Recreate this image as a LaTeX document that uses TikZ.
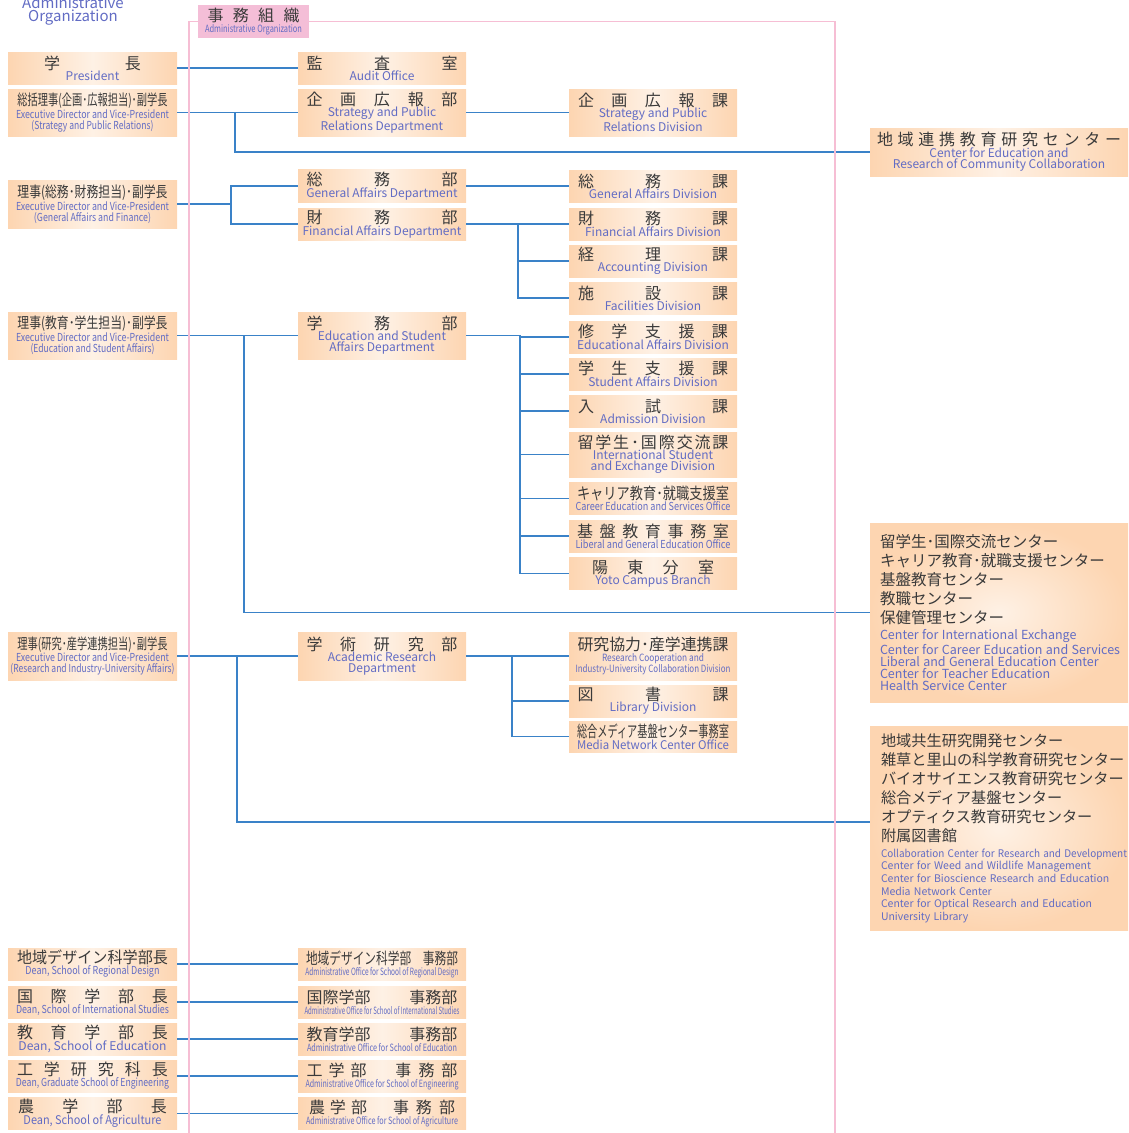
\documentclass[tikz,border=0pt]{standalone}
\usepackage{fontspec}
\setmainfont{Noto Sans CJK JP}
\usepackage{graphicx}

\definecolor{peach}{RGB}{253,213,177}
\definecolor{peachlight}{RGB}{254,241,229}
\definecolor{jpgray}{RGB}{58,58,58}
\definecolor{enblue}{RGB}{98,108,196}
\definecolor{linkblue}{RGB}{58,130,200}
\definecolor{pinkline}{RGB}{246,190,212}
\definecolor{titlepink}{RGB}{244,190,215}

\newcommand\jp[1]{{\color{jpgray}\fontsize{16}{16}\selectfont #1}}
\newcommand\jpq[2]{{\color{jpgray}\fontsize{16}{16}\selectfont\resizebox{#1}{\height}{#2}}}
\newcommand\jpe[2]{{\color{jpgray}\fontsize{15}{15}\selectfont\resizebox{#1}{\height}{#2}}}
\newcommand\en[1]{{\color{enblue}\fontsize{12}{11}\selectfont #1}}
\newcommand\enq[2]{{\color{enblue}\fontsize{12}{11}\selectfont\resizebox{#1}{\height}{#2}}}
\newcommand\enc[2]{{\color{enblue}\fontsize{11}{10}\selectfont\resizebox{#1}{\height}{#2}}}
\newcommand\encs[2]{{\color{enblue}\fontsize{10}{9}\selectfont\resizebox{#1}{\height}{#2}}}
\newcommand\spr[2]{\makebox[#1][s]{#2}}

\tikzset{
  orgbox/.style={left color=peach, right color=peach, middle color=peachlight,
    inner sep=0pt, align=center, minimum width=169pt, minimum height=32pt,
    font=\fontsize{12}{11}\selectfont},
  tallbox/.style={orgbox, minimum height=47pt},
  bigbox/.style={inner color=peachlight, outer color=peach, inner sep=0pt,
    minimum width=258pt, text width=258pt, align=left},
  titlebox/.style={fill=titlepink, inner sep=0pt, align=center,
    minimum width=111pt, minimum height=33pt, font=\fontsize{10}{9}\selectfont},
  link/.style={draw=linkblue, line width=1.5pt},
  frame/.style={draw=pinkline, line width=1.5pt},
}

\begin{document}
\begin{tikzpicture}[x=1pt,y=-1pt,line cap=butt]
\useasboundingbox (0,0) rectangle (1128,1133);

% heading and title
\node[inner sep=0pt, align=center, text=enblue, font=\fontsize{15}{13}\selectfont] (hd) at (73,11) {Administrative\\Organization};
\node[titlebox] (title) at (253.5,21.5) {\jp{\spr{92pt}{事\hfill 務\hfill 組\hfill 織}}\\\encs{97pt}{Administrative Organization}};

% left column
\node[orgbox] (pres) at (92.5,68) {\jp{\spr{97pt}{学\hfill 長}}\\\en{President}};
\node[tallbox] (exS) at (92.5,112.5) {\jpe{150pt}{総括理事(企画･広報担当)･副学長}\\\enc{153pt}{Executive Director and Vice-President}\\\enc{122pt}{(Strategy and Public Relations)}};
\node[tallbox, minimum height=48pt] (exG) at (92.5,204) {\jpe{150pt}{理事(総務･財務担当)･副学長}\\\enc{153pt}{Executive Director and Vice-President}\\\enc{117pt}{(General Affairs and Finance)}};
\node[tallbox] (exE) at (92.5,335.5) {\jpe{150pt}{理事(教育･学生担当)･副学長}\\\enc{153pt}{Executive Director and Vice-President}\\\enc{124pt}{(Education and Student Affairs)}};
\node[tallbox, minimum height=48pt] (exR) at (92.5,656) {\jpe{150pt}{理事(研究･産学連携担当)･副学長}\\\enc{153pt}{Executive Director and Vice-President}\\\enc{164pt}{(Research and Industry-University Affairs)}};

\node[orgbox] (dean1) at (92.5,964) {\jpq{151pt}{地域デザイン科学部長}\\\enc{134pt}{Dean, School of Regional Design}};
\node[orgbox] (dean2) at (92.5,1002) {\jp{\spr{151pt}{国\hfill 際\hfill 学\hfill 部\hfill 長}}\\\enc{153pt}{Dean, School of International Studies}};
\node[orgbox] (dean3) at (92.5,1039) {\jp{\spr{151pt}{教\hfill 育\hfill 学\hfill 部\hfill 長}}\\\enq{148pt}{Dean, School of Education}};
\node[orgbox] (dean4) at (92.5,1076) {\jp{\spr{151pt}{工\hfill 学\hfill 研\hfill 究\hfill 科\hfill 長}}\\\enc{153pt}{Dean, Graduate School of Engineering}};
\node[orgbox] (dean5) at (92.5,1113.5) {\jp{\spr{149pt}{農\hfill 学\hfill 部\hfill 長}}\\\enq{138pt}{Dean, School of Agriculture}};

% middle column
\node[orgbox, minimum width=168pt] (audit) at (382,68) {\jp{\spr{151pt}{監\hfill 査\hfill 室}}\\\en{Audit Office}};
\node[tallbox, minimum width=168pt] (sprD) at (382,112.5) {\jp{\spr{151pt}{企\hfill 画\hfill 広\hfill 報\hfill 部}}\\\en{Strategy and Public}\\\en{Relations Department}};
\node[orgbox, minimum width=168pt, minimum height=33pt] (gaD) at (382,186) {\jp{\spr{151pt}{総\hfill 務\hfill 部}}\\\en{General Affairs Department}};
\node[orgbox, minimum width=168pt] (faD) at (382,224) {\jp{\spr{151pt}{財\hfill 務\hfill 部}}\\\en{Financial Affairs Department}};
\node[tallbox, minimum width=168pt] (eduD) at (382,335.5) {\jp{\spr{151pt}{学\hfill 務\hfill 部}}\\\en{Education and Student}\\\en{Affairs Department}};
\node[tallbox, minimum width=168pt, minimum height=48pt] (acaD) at (382,656) {\jp{\spr{151pt}{学\hfill 術\hfill 研\hfill 究\hfill 部}}\\\en{Academic Research}\\\en{Department}};

\node[orgbox, minimum width=168pt] (off1) at (382,964) {\jpq{152pt}{地域デザイン科学部　事務部}\\\encs{153pt}{Administrative Office for School of Regional Design}};
\node[orgbox, minimum width=168pt] (off2) at (382,1002) {\jp{\spr{151pt}{国際学部\hfill 事務部}}\\\encs{155pt}{Administrative Office for School of International Studies}};
\node[orgbox, minimum width=168pt] (off3) at (382,1039) {\jp{\spr{151pt}{教育学部\hfill 事務部}}\\\encs{150pt}{Administrative Office for School of Education}};
\node[orgbox, minimum width=168pt] (off4) at (382,1076) {\jp{\spr{151pt}{\spr{60pt}{工\hfill 学\hfill 部}\hfill\spr{62pt}{事\hfill 務\hfill 部}}}\\\encs{153pt}{Administrative Office for School of Engineering}};
\node[orgbox, minimum width=168pt] (off5) at (382,1113.5) {\jp{\spr{146pt}{\spr{58pt}{農\hfill 学\hfill 部}\hfill\spr{62pt}{事\hfill 務\hfill 部}}}\\\encs{152pt}{Administrative Office for School of Agriculture}};

% right column
\node[tallbox, minimum width=168pt] (sprV) at (653,112.5) {\jp{\spr{150pt}{企\hfill 画\hfill 広\hfill 報\hfill 課}}\\\en{Strategy and Public}\\\en{Relations Division}};
\node[orgbox, minimum width=168pt] (gaV) at (653,186) {\jp{\spr{150pt}{総\hfill 務\hfill 課}}\\\en{General Affairs Division}};
\node[orgbox, minimum width=168pt] (faV) at (653,224) {\jp{\spr{150pt}{財\hfill 務\hfill 課}}\\\en{Financial Affairs Division}};
\node[orgbox, minimum width=168pt] (acV) at (653,261) {\jp{\spr{150pt}{経\hfill 理\hfill 課}}\\\en{Accounting Division}};
\node[orgbox, minimum width=168pt] (fcV) at (653,298) {\jp{\spr{150pt}{施\hfill 設\hfill 課}}\\\en{Facilities Division}};
\node[orgbox, minimum width=168pt] (edaV) at (653,337) {\jp{\spr{150pt}{修\hfill 学\hfill 支\hfill 援\hfill 課}}\\\en{Educational Affairs Division}};
\node[orgbox, minimum width=168pt] (stV) at (653,374) {\jp{\spr{150pt}{学\hfill 生\hfill 支\hfill 援\hfill 課}}\\\en{Student Affairs Division}};
\node[orgbox, minimum width=168pt] (adV) at (653,411) {\jp{\spr{150pt}{入\hfill 試\hfill 課}}\\\en{Admission Division}};
\node[orgbox, minimum width=168pt, minimum height=45pt] (inV) at (653,454.5) {\jp{\spr{151pt}{留\hfill 学\hfill 生\hfill ･\hfill 国\hfill 際\hfill 交\hfill 流\hfill 課}}\\\en{International Student}\\\en{and Exchange Division}};
\node[orgbox, minimum width=168pt] (crV) at (653,498.5) {\jpq{152pt}{キャリア教育･就職支援室}\\\enc{155pt}{Career Education and Services Office}};
\node[orgbox, minimum width=168pt] (lbV) at (653,536) {\jp{\spr{152pt}{基\hfill 盤\hfill 教\hfill 育\hfill 事\hfill 務\hfill 室}}\\\enc{155pt}{Liberal and General Education Office}};
\node[orgbox, minimum width=168pt] (ytV) at (653,573.5) {\jp{\spr{122pt}{陽\hfill 東\hfill 分\hfill 室}}\\\en{Yoto Campus Branch}};
\node[tallbox, minimum width=168pt, minimum height=48pt] (rcV) at (653,656) {\jpq{151pt}{研究協力･産学連携課}\\\encs{102pt}{Research Cooperation and}\\\encs{155pt}{Industry-University Collaboration Division}};
\node[orgbox, minimum width=168pt] (lyV) at (653,701) {\jp{\spr{151pt}{図\hfill 書\hfill 課}}\\\en{Library Division}};
\node[orgbox, minimum width=168pt, minimum height=31pt] (mdV) at (653,736.5) {\jpq{152pt}{総合メディア基盤センター事務室}\\\enq{152pt}{Media Network Center Office}};

% far right
\node[tallbox, minimum width=258pt, minimum height=48pt] (cecV) at (999,152) {\jp{\spr{244pt}{地\hfill 域\hfill 連\hfill 携\hfill 教\hfill 育\hfill 研\hfill 究\hfill セ\hfill ン\hfill タ\hfill ー}}\\\en{Center for Education and}\\\en{Research of Community Collaboration}};
\node[bigbox, minimum height=179pt] (bigA) at (999,612.5) {%
  {\leftskip=10pt\color{jpgray}\fontsize{15.5}{19}\selectfont 留学生･国際交流センター\\キャリア教育･就職支援センター\\基盤教育センター\\教職センター\\保健管理センター\par}\vspace{4.5pt}
  {\leftskip=10pt\color{enblue}\fontsize{12.5}{12.3}\selectfont Center for International Exchange\\Center for Career Education and Services\\Liberal and General Education Center\\Center for Teacher Education\\Health Service Center\par}};
\node[bigbox, minimum height=204pt] (bigB) at (999,828) {%
  {\leftskip=11pt\color{jpgray}\fontsize{15.2}{19}\selectfont 地域共生研究開発センター\\雑草と里山の科学教育研究センター\\バイオサイエンス教育研究センター\\総合メディア基盤センター\\オプティクス教育研究センター\\附属図書館\par}\vspace{3.5pt}
  {\leftskip=11pt\color{enblue}\fontsize{10.5}{12.6}\selectfont \resizebox{246pt}{\height}{Collaboration Center for Research and Development}\\Center for Weed and Wildlife Management\\Center for Bioscience Research and Education\\Media Network Center\\Center for Optical Research and Education\\University Library\par}};

% connectors
\draw[link] (pres.east) -- (audit.west);
\draw[link] (exS.east) -- (sprD.west);
\draw[link] (sprD.east) -- (sprV.west);
\coordinate (bS) at (235,112.5);
\draw[link] (bS) |- (cecV.west);

\coordinate (bG) at (231,204);
\draw[link] (exG.east) -- (bG);
\draw[link] (gaD.west) -| (bG) |- (faD.west);
\draw[link] (gaD.east) -- (gaV.west);
\coordinate (bF) at (518,224);
\draw[link] (faD.east) -- (bF) |- (fcV.west);
\foreach \n in {faV,acV}
  \draw[link] (bF |- \n.west) -- (\n.west);

\draw[link] (exE.east) -- (eduD.west);
\coordinate (bX) at (244,335.5);
\draw[link] (bX) |- (bigA.west);
\coordinate (bE) at (520,335.5);
\draw[link] (eduD.east) -- (bE) |- (ytV.west);
\foreach \n in {edaV,stV,adV,inV,crV,lbV}
  \draw[link] (bE |- \n.west) -- (\n.west);

\draw[link] (exR.east) -- (acaD.west);
\coordinate (bR) at (237,656);
\draw[link] (bR) |- ([yshift=6pt]bigB.west);
\coordinate (bA) at (512,656);
\draw[link] (acaD.east) -- (rcV.west);
\draw[link] (bA) |- (mdV.west);
\draw[link] (bA |- lyV.west) -- (lyV.west);

\foreach \i in {1,...,5}
  \draw[link] (dean\i.east) -- (off\i.west);

% frame of the administrative organization
\coordinate (fL) at (189,1133);
\coordinate (fR) at (835,1133);
\draw[frame] (title.west) -| (fL);
\draw[frame] (title.east) -| (fR);
\end{tikzpicture}
\end{document}
